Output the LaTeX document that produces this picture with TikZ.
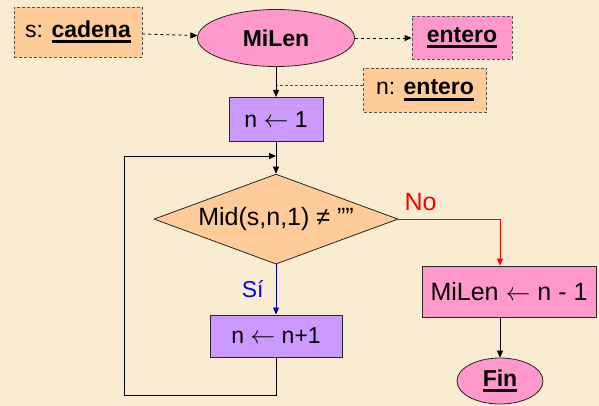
\documentclass[tikz,border=0pt]{standalone}
\usepackage{fontspec}
\setmainfont{Liberation Sans}
\usetikzlibrary{shapes.geometric,arrows.meta,positioning}

\definecolor{bgcream}{HTML}{FAECD0}
\definecolor{peach}{HTML}{FFCC99}
\definecolor{pinkfill}{HTML}{FF99CC}
\definecolor{lilac}{HTML}{CC99FF}
\definecolor{dashgray}{HTML}{555555}
\definecolor{navyline}{HTML}{000099}
\definecolor{siblue}{HTML}{0000FF}

% bold word with a thick underline
\newcommand{\ubf}[1]{\textbf{\setbox0\hbox{#1}\rlap{\rule[-6pt]{\wd0}{3pt}}\box0}}
% assignment arrow
\newcommand{\asg}{$\leftarrow$}

\begin{document}
\begin{tikzpicture}[
        x=1pt, y=-1pt,
        node distance = 30pt,
        every node/.style={font=\fontsize{23}{27}\selectfont, inner sep=0pt},
        box/.style={draw=black!85, line width=0.8pt, rectangle},
        dbox/.style={draw=dashgray, line width=0.8pt, dash pattern=on 3pt off 2pt, rectangle},
        oval/.style={draw=black!85, line width=0.8pt, ellipse},
        arr/.style={line width=0.8pt, -{Triangle[length=7pt,width=6pt]}},
        big/.style={font=\fontsize{25}{29}\selectfont}]

    % BACKGROUND
    \fill[bgcream] (0,0) rectangle (599,406);

    % NODES
    % parameter
    \node[dbox, fill=peach, minimum width=128pt, minimum height=50pt] (sarg) at (78,32) {s: \ubf{cadena}};
    % function
    \node[oval, fill=pinkfill, minimum width=157pt, minimum height=57pt] (milen) at (276,38) {\textbf{MiLen}};
    % result type
    \node[dbox, fill=pinkfill, minimum width=100pt, minimum height=43pt] (res) at (462,38) {\ubf{entero}};
    % local variable
    \node[dbox, fill=peach, minimum width=123pt, minimum height=44pt] (nvar) at (425,90) {n: \ubf{entero}};
    % n <- 1
    \node[box, fill=lilac, minimum width=94pt, minimum height=44pt, below=30pt of milen] (init) {n \asg{} 1};
    % test
    \node[box, diamond, aspect=2.71, fill=peach, minimum width=244pt, minimum height=90pt, big, below=32pt of init] (cond) {Mid(s,n,1) ≠ {\char34\char34}};
    % n <- n+1
    \node[box, fill=lilac, minimum width=132pt, minimum height=42pt, below=50pt of cond] (inc) {n \asg{} n+1};
    % MiLen <- n - 1
    \node[box, fill=pinkfill, minimum width=174pt, minimum height=51pt, big] (ret) at (509,291.5) {MiLen \asg{} n - 1};
    % end
    \node[oval, fill=pinkfill, minimum width=86pt, minimum height=46pt] (fin) at (500,381) {\ubf{Fin}};
    % label No
    \node[big, text=red, anchor=south west] (no) at ([xshift=6pt,yshift=8pt]cond.east) {No};

    % joints
    \coordinate (nj) at (init.north |- 0,85);
    \coordinate (lp) at (init.south |- 0,156);

    % ARROWS
    \draw[arr, dashed] (sarg) -- (milen);
    \draw[arr, dashed] (milen) -- (res);
    \draw[line width=0.8pt, draw=dashgray, dash pattern=on 3pt off 2pt] (nvar.west |- nj) -- (nj);
    \draw[arr] (milen) -- (init);
    \draw[arr] (init) -- (cond);
    \draw[arr, navyline] (cond) -- (inc) node[midway, left=12pt, text=siblue] (si) {Sí};
    \draw[arr] (inc.south) -- ++(0,38) -| (124,156) -- (lp);
    \draw[arr, red] (cond.east) -| (ret.north -| fin.north);
    \draw[arr] (ret.south -| fin.north) -- (fin);
\end{tikzpicture}
\end{document}
